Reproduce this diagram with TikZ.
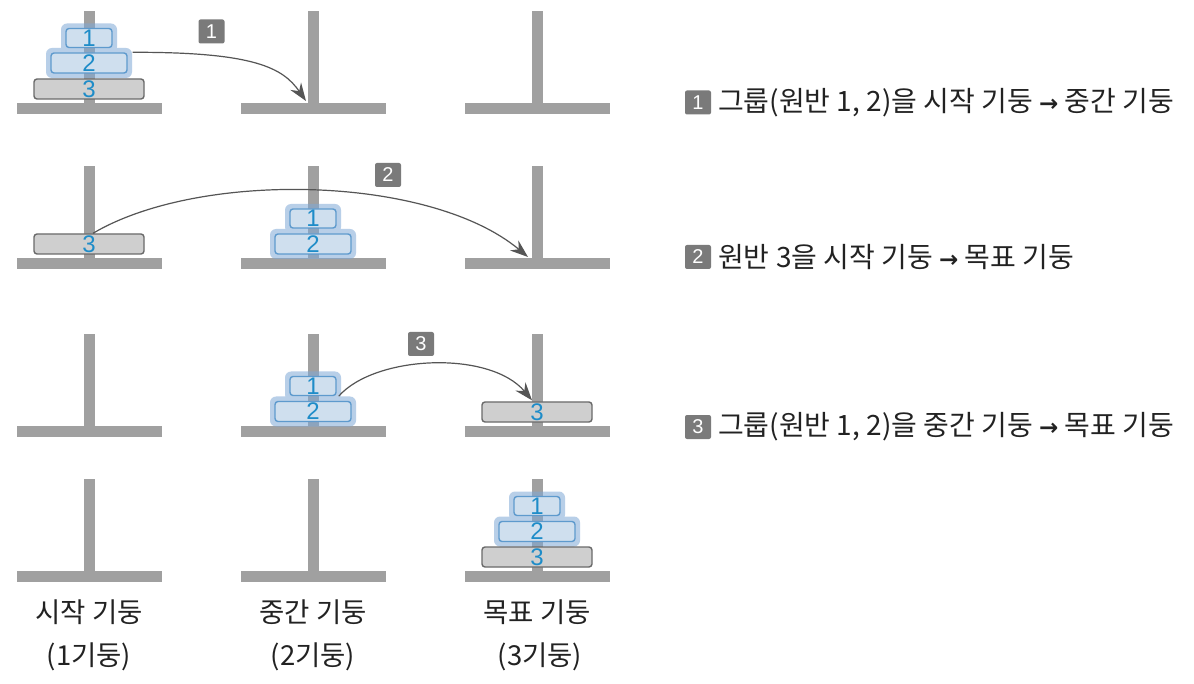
\documentclass[tikz,border=0pt]{standalone}
\usepackage{fontspec}
\setmainfont{Noto Sans CJK KR}
\newfontfamily\digitfont{Liberation Sans}
\newfontfamily\symfont{DejaVu Sans}
\newcommand\rarr{{\symfont\bfseries\fontsize{23}{23}\selectfont →}}
\usetikzlibrary{arrows.meta}
\definecolor{polegray}{HTML}{A0A0A0}
\definecolor{diskgray}{HTML}{CFCFCF}
\definecolor{diskedge}{HTML}{6A6A6A}
\definecolor{bluefill}{HTML}{CFDFEE}
\definecolor{blueedge}{HTML}{5E9ACD}
\definecolor{bluetext}{HTML}{1E8CC8}
\definecolor{glowblue}{HTML}{7FA8D6}
\definecolor{arrowgray}{HTML}{555555}
\definecolor{tagbox}{HTML}{7A7A7A}
\definecolor{txt}{HTML}{222222}
\newcommand\peg[2]{%
  \fill[polegray] (#1-72.5,#2) rectangle (#1+72.5,#2+11);
  \fill[polegray] (#1-5.5,#2-92) rectangle (#1+5.5,#2);}
\newcommand\glowgrp[3]{%
  \fill[glowblue, fill opacity=0.55, rounded corners=6pt]
    (#1-43,#2-15) rectangle (#1+43,#2+15)
    (#1-28,#3-14.5) rectangle (#1+28,#3+14.5);}
\begin{document}
\begin{tikzpicture}[x=1pt,y=-1pt,
  diskbase/.style={rectangle, rounded corners=3pt, inner sep=0pt, line width=1.4pt,
    font=\digitfont\fontsize{24}{24}\selectfont, text=bluetext},
  bigdisk/.style={diskbase, draw=diskedge, fill=diskgray, minimum width=110pt, minimum height=20pt},
  middisk/.style={diskbase, draw=blueedge, fill=bluefill, minimum width=76pt, minimum height=20pt},
  smalldisk/.style={diskbase, draw=blueedge, fill=bluefill, minimum width=46pt, minimum height=19pt},
  movearrow/.style={draw=arrowgray, line width=1.2pt,
    -{Stealth[length=18pt,width=13pt,inset=6pt]}},
  tag/.style={rectangle, fill=tagbox, rounded corners=2pt, minimum width=26pt, minimum height=24pt,
    inner sep=0pt, text=white, font=\digitfont\fontsize{20}{20}\selectfont},
  desc/.style={anchor=west, text=txt, inner sep=0pt, font=\fontsize{28}{28}\selectfont},
  pegname/.style={text=txt, inner sep=0pt, font=\fontsize{27.5}{27.5}\selectfont}]
\useasboundingbox (0,0) rectangle (1194,684);
\fill[white] (0,0) rectangle (1194,684);

% ---------- row 1 ----------
\foreach \px in {89,313,537} {\peg{\px}{103}}
\glowgrp{89}{63}{38}
\node[bigdisk] (r1d3) at (89,89) {3};
\node[middisk] (r1d2) at (89,63) {2};
\node[smalldisk] (r1d1) at (89,38) {1};
\coordinate (t1) at (306,101);
\draw[movearrow] ([xshift=5pt]r1d2.north east) .. controls (255,52) and (283,68) .. (t1);
\node[tag] (tag1) at (211.5,31.5) {1};

% ---------- row 2 ----------
\foreach \px in {89,313,537} {\peg{\px}{258}}
\glowgrp{313}{244}{218.5}
\node[bigdisk] (r2d3) at (89,244) {3};
\node[middisk] (r2d2) at (313,244) {2};
\node[smalldisk] (r2d1) at (313,218.5) {1};
\coordinate (t2) at (528,257);
\draw[movearrow] ([xshift=4pt]r2d3.north) .. controls (200,170) and (430,175) .. (t2);
\node[tag] (tag2) at (388,175) {2};

% ---------- row 3 ----------
\foreach \px in {89,313,537} {\peg{\px}{426}}
\glowgrp{313}{411.5}{386}
\node[middisk] (r3d2) at (313,411.5) {2};
\node[smalldisk] (r3d1) at (313,386) {1};
\node[bigdisk] (r3d3) at (537,412) {3};
\draw[movearrow] ([xshift=2pt]r3d1.south east) .. controls (375,355) and (490,350) .. ([xshift=-5pt,yshift=1pt]r3d3.north);
\node[tag] (tag3) at (421,344) {3};

% ---------- row 4 ----------
\foreach \px in {89,313,537} {\peg{\px}{571}}
\glowgrp{537}{531.5}{506}
\node[bigdisk] (r4d3) at (537,557) {3};
\node[middisk] (r4d2) at (537,531.5) {2};
\node[smalldisk] (r4d1) at (537,506) {1};

% ---------- peg names ----------
\node[pegname] (n1) at (89,612) {시작 기둥};
\node[pegname] (m1) at (89,657) {(1기둥)};
\node[pegname] (n2) at (313,612) {중간 기둥};
\node[pegname] (m2) at (313,657) {(2기둥)};
\node[pegname] (n3) at (537,612) {목표 기둥};
\node[pegname] (m3) at (540,657) {(3기둥)};

% ---------- descriptions ----------
\node[tag] (s1) at (698,102.5) {1};
\node[desc] (d1) at (718,102.5) {그룹(원반 1, 2)을 시작 기둥 \rarr{} 중간 기둥};
\node[tag] (s2) at (698,257) {2};
\node[desc] (d2) at (718,257) {원반 3을 시작 기둥 \rarr{} 목표 기둥};
\node[tag] (s3) at (698,427) {3};
\node[desc] (d3) at (718,427) {그룹(원반 1, 2)을 중간 기둥 \rarr{} 목표 기둥};
\end{tikzpicture}
\end{document}
